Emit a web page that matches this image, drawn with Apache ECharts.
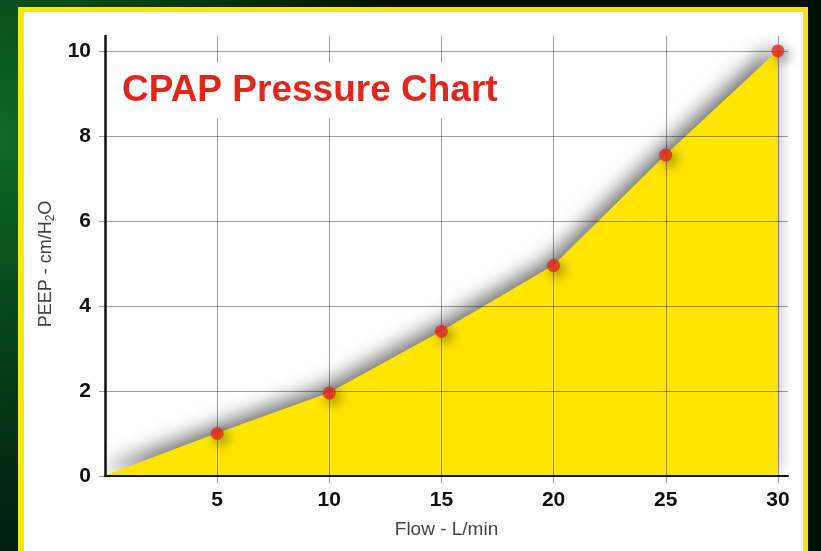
<!DOCTYPE html>
<html>
<head>
<meta charset="utf-8">
<title>CPAP Pressure Chart</title>
<script src="https://cdn.jsdelivr.net/npm/echarts@6/dist/echarts.min.js"></script>
<style>
  html, body {
    margin: 0;
    padding: 0;
    width: 821px;
    height: 551px;
    overflow: hidden;
  }
  body {
    position: relative;
    background: radial-gradient(ellipse 420px 520px at 0% 25%, #0e6a23 0%, #06461a 35%, #022510 70%, #000f07 100%);
    background-color: #000f07;
  }
  .frame {
    position: absolute;
    left: 18px;
    top: 7px;
    width: 790px;
    height: 600px;
    box-sizing: border-box;
    border-style: solid;
    border-color: #ffe600;
    border-width: 5px 5px 0 6px;
    background: #fff;
  }
  #main {
    position: absolute;
    left: 0;
    top: 0;
    width: 821px;
    height: 551px;
  }
</style>
</head>
<body>
<div class="frame"></div>
<div id="main"></div>
<script>
// flow (L/min) and PEEP (cm/H2O)
const flow = [0, 5, 10, 15, 20, 25, 30];
const peep = [0, 1.0, 1.95, 3.4, 4.95, 7.55, 10.0];
const xTicks = [5, 10, 15, 20, 25, 30];
const yTicks = [0, 2, 4, 6, 8, 10];

const fontFamily = "'Liberation Sans', Arial, Helvetica, sans-serif";
const lineData = flow.map((f, i) => [f, peep[i]]);
// the origin has no dot
const dotData = lineData.filter((d) => d[0] > 0);

const gridColor = "rgba(0,0,0,0.38)";

const myChart = echarts.init(document.getElementById("main"), null, { renderer: "canvas" });

const option = {
  backgroundColor: "transparent",
  animation: false,
  textStyle: { fontFamily: fontFamily },
  title: {
    text: "CPAP Pressure Chart",
    left: 110,
    top: 63,
    backgroundColor: "#fff",
    padding: [10, 8, 9, 12],
    textStyle: {
      color: "#e3261c",
      fontSize: 37,
      lineHeight: 36,
      fontWeight: "bold",
      fontFamily: fontFamily
    }
  },
  grid: {
    left: 105,
    right: 33,
    top: 36,
    bottom: 75
  },
  xAxis: {
    type: "value",
    min: 0,
    max: 30.45,
    interval: 5,
    z: 3,
    name: "Flow - L/min",
    nameLocation: "middle",
    nameGap: 44,
    nameTextStyle: {
      color: "#444",
      fontSize: 19,
      fontFamily: fontFamily
    },
    axisLine: {
      show: true,
      lineStyle: { color: "#111", width: 2 }
    },
    axisTick: {
      show: true,
      length: 7,
      customValues: xTicks,
      lineStyle: { color: gridColor, width: 1 }
    },
    axisLabel: {
      customValues: xTicks,
      margin: 14,
      color: "#111",
      fontSize: 21,
      fontWeight: "bold",
      fontFamily: fontFamily
    },
    splitLine: {
      show: true,
      showMinLine: true,
      showMaxLine: true,
      lineStyle: { color: gridColor, width: 1 }
    }
  },
  yAxis: {
    type: "value",
    min: 0,
    max: 10.35,
    interval: 2,
    z: 3,
    name: "{a|PEEP - cm/H}{s|2}{a|O}",
    nameLocation: "middle",
    nameRotate: 90,
    nameGap: 48,
    nameTextStyle: {
      padding: [0, 16, 0, 0],
      rich: {
        a: { color: "#444", fontSize: 18, lineHeight: 21, fontFamily: fontFamily },
        s: { color: "#444", fontSize: 12, lineHeight: 12, verticalAlign: "bottom", fontFamily: fontFamily }
      }
    },
    axisLine: {
      show: true,
      lineStyle: { color: "#111", width: 2.5 }
    },
    axisTick: {
      show: true,
      length: 6,
      customValues: yTicks,
      lineStyle: { color: gridColor, width: 1 }
    },
    axisLabel: {
      customValues: yTicks,
      margin: 14,
      color: "#111",
      fontSize: 21,
      fontWeight: "bold",
      fontFamily: fontFamily
    },
    splitLine: {
      show: true,
      showMinLine: true,
      showMaxLine: true,
      lineStyle: { color: gridColor, width: 1 }
    }
  },
  series: [
    {
      type: "line",
      z: 1,
      data: lineData,
      showSymbol: false,
      lineStyle: { color: "#ffe500", width: 1 },
      areaStyle: {
        color: "#ffe500",
        opacity: 1,
        // soft grey glow sitting above the curve
        shadowBlur: 20,
        shadowColor: "rgba(0,0,0,0.58)",
        shadowOffsetX: -5,
        shadowOffsetY: -6
      }
    },
    {
      type: "scatter",
      z: 5,
      data: dotData,
      symbol: "circle",
      symbolSize: 13,
      itemStyle: {
        color: "#e3261c",
        shadowBlur: 12,
        shadowColor: "rgba(0,0,0,0.6)",
        shadowOffsetX: 4,
        shadowOffsetY: 4
      }
    }
  ]
};

myChart.setOption(option);
</script>
</body>
</html>
